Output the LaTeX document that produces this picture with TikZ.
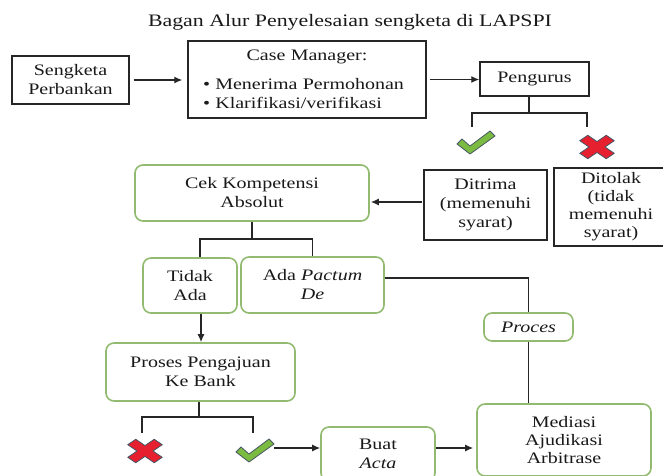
\documentclass[tikz,border=0pt]{standalone}
\usepackage{fontspec}
\setmainfont{Liberation Serif}[FakeStretch=1.25]
\usetikzlibrary{arrows.meta,calc}
\definecolor{gbord}{RGB}{146,186,112}
\definecolor{txt}{RGB}{25,25,25}
\definecolor{okfill}{RGB}{124,187,66}
\definecolor{nofill}{RGB}{230,32,46}
\definecolor{markline}{RGB}{70,85,100}
\begin{document}
\begin{tikzpicture}[x=1pt,y=-1pt,
  every node/.style={font=\fontsize{16}{19}\selectfont, text=txt, align=center, inner sep=0pt},
  sqbox/.style={draw=black!85, line width=1.4pt},
  grbox/.style={draw=gbord, line width=1.6pt, rounded corners=8pt},
  conn/.style={draw=black!85, line width=1.3pt},
  arr/.style={conn, -{Latex[length=8pt,width=7pt]}},
  markbox/.style={minimum width=38pt, minimum height=24pt},
  chk/.pic={\filldraw[fill=okfill, draw=markline, line width=0.8pt, line join=round]
     (-19,1) -- (-14,-4) -- (-6,3) -- (14,-12) -- (19,-7) -- (-6,11) -- cycle;},
  crs/.pic={\filldraw[xscale=1.25, yscale=0.85, fill=nofill, draw=markline, line width=0.8pt, line join=round]
     (13.8,7.4) -- (7.4,13.8) -- (0,6.36) -- (-7.4,13.8) -- (-13.8,7.4) -- (-6.36,0)
     -- (-13.8,-7.4) -- (-7.4,-13.8) -- (0,-6.36) -- (7.4,-13.8) -- (13.8,-7.4) -- (6.36,0) -- cycle;}
]
\useasboundingbox (0,0) rectangle (663,475);
\fill[white] (0,0) rectangle (663,475);
\clip (0,0) rectangle (663,475);

% title
\node (title) at (350,22) {\fontsize{17.5}{20}\selectfont Bagan Alur Penyelesaian sengketa di LAPSPI};

% top row
\node[sqbox, minimum width=117pt, minimum height=48pt] (seng) at (70.5,80) {Sengketa\\Perbankan};
\node[sqbox, minimum width=238pt, minimum height=77pt, text width=208pt, align=left] (case) at (307,79.5)
  {\makebox[208pt]{Case Manager:}\\[10pt]\textbullet\ Menerima Permohonan\\\textbullet\ Klarifikasi/verifikasi};
\node[sqbox, minimum width=109pt, minimum height=34pt] (peng) at (534.5,79) {Pengurus};

% marks under Pengurus
\node[markbox] (ok1) at (476,143) {};
\pic at (ok1) {chk};
\node[markbox] (no1) at (597,147) {};
\pic at (no1) {crs};

% second row
\node[grbox, minimum width=234pt, minimum height=56pt] (cek) at (252,193) {Cek Kompetensi\\Absolut};
\node[sqbox, minimum width=123pt, minimum height=70pt] (ditr) at (485.5,205) {Ditrima\\(memenuhi\\syarat)};
\node[sqbox, minimum width=114pt, minimum height=78pt, font=\fontsize{16}{18}\selectfont] (dito) at (611,207) {Ditolak\\(tidak\\memenuhi\\syarat)};

% third row
\node[grbox, minimum width=94pt, minimum height=55pt] (tidak) at (190,285.5) {Tidak\\Ada};
\node[grbox, minimum width=143pt, minimum height=56pt] (ada) at (312.5,285) {Ada \textit{Pactum}\\\textit{De}};
\node[grbox, minimum width=89pt, minimum height=28pt] (proc) at (528.5,327) {\textit{Proces}};
\node[grbox, minimum width=189pt, minimum height=58pt] (pros) at (200.5,372) {Proses Pengajuan\\Ke Bank};

% bottom row
\node[markbox] (no2) at (145,451) {};
\pic at (no2) {crs};
\node[markbox] (ok2) at (255,451) {};
\pic at (ok2) {chk};
\node[grbox, minimum width=114pt, minimum height=54pt] (buat) at (378,454) {Buat\\\textit{Acta}};
\node[grbox, minimum width=174pt, minimum height=72pt, font=\fontsize{16}{18}\selectfont] (med) at (564,440) {Mediasi\\Ajudikasi\\Arbitrase};

% junction coordinates
\coordinate (pj) at (529,113);
\coordinate (cj) at (252,239);
\coordinate (pj2) at (199,417);

% connectors
\draw[arr, shorten <=4pt, shorten >=5pt] (seng.east) -- (seng.east -| case.west);
\draw[arr, shorten <=3pt] (case.east) -- (case.east -| peng.west);
\draw[conn] (pj) -- (pj |- peng.south);
\draw[conn] ([xshift=-4pt,yshift=4pt]ok1.north) |- (pj) -| ([xshift=-10pt,yshift=8pt]no1.north);

\draw[arr, shorten <=1pt, shorten >=1pt] ([yshift=3pt]ditr.west) -- ([yshift=3pt]ditr.west -| cek.east);
\draw[conn] (cek.south) -- (cek.south |- cj);
\draw[conn] ([xshift=10pt]tidak.north) |- (cj) -| (ada.north);

\draw[conn] ([yshift=7pt]ada.east) -| (proc.north);
\draw[conn] (proc.south) -- (proc.south |- med.north);

\draw[arr] ([xshift=11pt]tidak.south) -- ([xshift=11pt]tidak.south |- pros.north);
\draw[conn] (pros.south -| pj2) -- (pj2);
\draw[conn] ([xshift=-3pt,yshift=6pt]no2.north) |- (pj2) -| ([xshift=-2pt,yshift=6pt]ok2.north);

\draw[arr] ([yshift=3pt]ok2.east) -- ([yshift=3pt]ok2.east -| buat.west);
\draw[arr, shorten >=3pt] ([yshift=6pt]buat.east) -- ([yshift=6pt]buat.east -| med.west);
\end{tikzpicture}
\end{document}
